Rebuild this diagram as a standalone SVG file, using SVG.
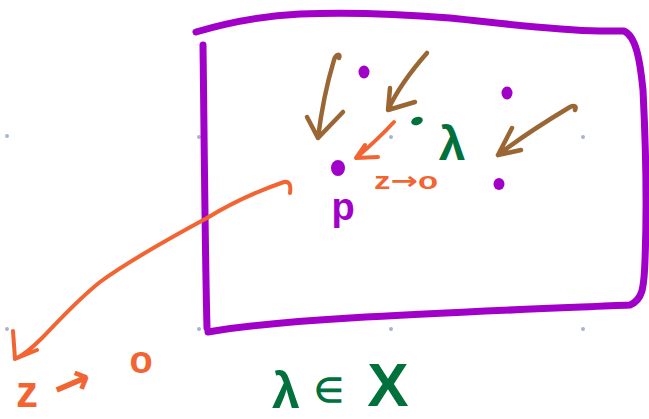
<svg xmlns="http://www.w3.org/2000/svg" width="649" height="419" viewBox="0 0 649 419">
<style>
.grid{fill:#a8b6cc}
.stroke{fill:none;stroke-linecap:round;stroke-linejoin:round}
.purple{stroke:#a000c8}
.brown{stroke:#9a6634;stroke-width:4.5}
.orange{stroke:#f26532;stroke-width:4}
.t{font-family:"Liberation Sans",Arial,sans-serif;font-weight:bold}
.arr{font-family:"DejaVu Sans",sans-serif;font-weight:bold}
</style>
<rect width="649" height="419" fill="#ffffff"/>
<g id="grid">
<circle class="grid" cx="7" cy="136" r="2"/>
<circle class="grid" cx="199" cy="137" r="2"/>
<circle class="grid" cx="391" cy="137" r="2"/>
<circle class="grid" cx="583" cy="137" r="2"/>
<circle class="grid" cx="7" cy="329" r="2"/>
<circle class="grid" cx="199" cy="329" r="2"/>
<circle class="grid" cx="391" cy="329" r="2"/>
<circle class="grid" cx="583" cy="329" r="2"/>
</g>
<g id="set-X">
<path class="stroke purple" stroke-width="7" d="M196,32 C230,22 260,16 300,14 C350,12 400,14 450,18 C500,23 550,30 600,31 L624,31 C636,36 640,60 643,90 C646,150 647,210 645,260 C644,290 642,300 630,305 C560,308 450,312 350,318 C300,321 250,325 208,332 M203,45 C204,120 205,250 207,328"/>
</g>
<g id="points">
<ellipse cx="364" cy="72" rx="5.5" ry="6.5" fill="#a000c8"/>
<ellipse cx="507" cy="93" rx="5.5" ry="6.5" fill="#a000c8"/>
<ellipse cx="338" cy="168" rx="7" ry="8" fill="#a000c8"/>
<ellipse cx="499" cy="184" rx="5.5" ry="6" fill="#a000c8"/>
<ellipse cx="417" cy="121" rx="6" ry="4" transform="rotate(-20 417 121)" fill="#00703c"/>
</g>
<g id="connectors">
<path class="stroke brown" d="M339,58 C341,54 336,53 334,60 C328,80 322,105 318,138 M307,117 L318,138 L343,112"/>
<path class="stroke brown" d="M427,53 C412,70 398,88 388,110 M390,88 L388,110 L415,102"/>
<path class="stroke brown" d="M575,110 C577,106 574,105 570,107 C545,122 520,138 498,155 M512,128 L498,155 L521,150"/>
<path class="stroke orange" d="M394,122 C383,134 370,146 356,158 M365,145 L356,158 L378,157"/>
<path class="stroke orange" d="M290,193 C291,186 290,181 284,182 C255,192 230,204 207,218 C170,238 130,260 100,282 C75,302 55,325 42,338 C32,348 22,356 15,359 M13,331 L15,359 L37,350"/>
</g>
<g id="labels">
<text class="t" x="343" y="220" font-size="38" fill="#a000c8" text-anchor="middle">p</text>
<text class="t" x="374" y="189" font-size="24" fill="#f26532" textLength="64" lengthAdjust="spacingAndGlyphs">z<tspan class="arr">→</tspan>o</text>
<text class="t" x="452" y="160" font-size="48" fill="#00703c" text-anchor="middle">λ</text>
<text class="t" x="16" y="407" font-size="44" fill="#f26532">z</text>
<text class="arr" x="72" y="398" font-size="46" fill="#f26532" text-anchor="middle" transform="rotate(-23 72 383)">→</text>
<text class="t" x="141" y="373" font-size="38" fill="#f26532" text-anchor="middle">o</text>
<text class="t" x="286" y="408" font-size="50" fill="#00703c" text-anchor="middle">λ</text>
<text class="t" x="329" y="402" font-size="34" fill="#00703c" text-anchor="middle">∈</text>
<text class="t" x="388" y="406" font-size="62" fill="#00703c" text-anchor="middle">X</text>
</g>
</svg>
